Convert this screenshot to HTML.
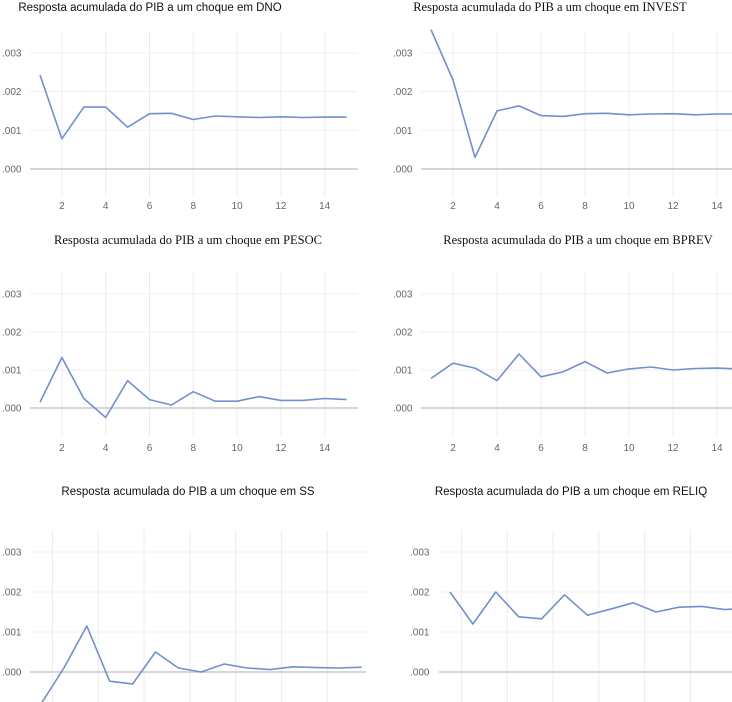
<!DOCTYPE html>
<html><head><meta charset="utf-8"><style>
html,body{margin:0;padding:0;background:#fff;}
svg{display:block;}
.tt{font-family:"Liberation Serif",serif;font-size:12.5px;fill:#111;}
.ts{font-family:"Liberation Sans",sans-serif;font-size:11.5px;fill:#111;}
.tk{font-family:"Liberation Sans",sans-serif;font-size:10px;fill:#666;}
</style></head><body>
<svg id="c" width="732" height="702" viewBox="0 0 732 702"></svg>
<script>
const periods=[1,2,3,4,5,6,7,8,9,10,11,12,13,14,15];
const yTicks=[0,0.001,0.002,0.003];
const yTickLabels=[".000",".001",".002",".003"];
const xTickLabels=[2,4,6,8,10,12,14];
const dno=[0.00243,0.00078,0.0016,0.0016,0.00108,0.00143,0.00144,0.00128,0.00137,0.00135,0.00133,0.00135,0.00133,0.00134,0.00134];
const invest=[0.0036,0.0023,0.0003,0.0015,0.00163,0.00138,0.00136,0.00143,0.00144,0.0014,0.00142,0.00143,0.0014,0.00142,0.00142];
const pesoc=[0.00015,0.00133,0.00025,-0.00025,0.00072,0.00022,0.00008,0.00043,0.00018,0.00018,0.0003,0.0002,0.0002,0.00025,0.00022];
const bprev=[0.00078,0.00118,0.00105,0.00072,0.00142,0.00082,0.00095,0.00122,0.00092,0.00103,0.00108,0.001,0.00104,0.00105,0.00103];
const ss=[-0.0008,0.0001,0.00115,-0.00023,-0.0003,0.0005,0.0001,0.0,0.0002,0.0001,0.00006,0.00013,0.00011,0.0001,0.00012];
const reliq=[0.002,0.0012,0.002,0.00138,0.00133,0.00193,0.00142,0.00157,0.00173,0.0015,0.00162,0.00164,0.00156,0.0016,0.0016];

const panels=[
 {name:'dno',title:'Resposta acumulada do PIB a um choque em DNO',sans:true,tx:150,ty:11,data:dno,x1:40,dx:21.9,y0:169,dy:38.7,L:30,R:358,T:32,B:197,lx:2,xl:209,gridOnTicks:true},
 {name:'invest',title:'Resposta acumulada do PIB a um choque em INVEST',tx:550,ty:11,data:invest,x1:431,dx:22,y0:169,dy:38.7,L:421,R:732,T:32,B:197,lx:393,xl:209,gridOnTicks:true},
 {name:'pesoc',title:'Resposta acumulada do PIB a um choque em PESOC',tx:188,ty:244,data:pesoc,x1:40,dx:21.9,y0:408,dy:38,L:30,R:358,T:272,B:436,lx:2,xl:451,gridOnTicks:true},
 {name:'bprev',title:'Resposta acumulada do PIB a um choque em BPREV',tx:578,ty:244,data:bprev,x1:431,dx:22,y0:408,dy:38,L:421,R:732,T:272,B:436,lx:393,xl:451,gridOnTicks:true},
 {name:'ss',title:'Resposta acumulada do PIB a um choque em SS',sans:true,tx:188,ty:495,data:ss,x1:41,dx:22.9,y0:672,dy:40,L:30,R:366,T:530,B:702,lx:2,xl:null,gridOnTicks:false},
 {name:'reliq',title:'Resposta acumulada do PIB a um choque em RELIQ',sans:true,tx:571,ty:495,data:reliq,x1:450,dx:22.9,y0:672,dy:40,L:439,R:732,T:530,B:702,lx:410,xl:null,gridOnTicks:false}
];
const svg=document.getElementById('c');
const NS='http://www.w3.org/2000/svg';
function mk(t,a){const e=document.createElementNS(NS,t);for(const k in a)e.setAttribute(k,a[k]);return e;}
panels.forEach(p=>{
  const g=mk('g',{});
  
  
  svg.appendChild(g);
  const X=v=>p.x1+(v-1)*p.dx;
  const Y=v=>p.y0-v/0.001*p.dy;
  const gx=p.gridOnTicks?xTickLabels:[1.5,3.5,5.5,7.5,9.5,11.5,13.5];
  gx.forEach(v=>{const l=mk('line',{x1:X(v),x2:X(v),y1:p.T,y2:p.B,stroke:'#ececec','stroke-width':1});
    g.appendChild(l);});
  yTicks.forEach((v,i)=>{
    const l=mk('line',{x1:p.L,x2:p.R,y1:Y(v),y2:Y(v),stroke:v===0?'#c8c8c8':'#efefef','stroke-width':v===0?1.5:1});
    g.appendChild(l);
    const t=mk('text',{x:p.lx,y:Y(v)+3.5,class:'tk'});t.textContent=yTickLabels[i];
    g.appendChild(t);
  });
  if(p.xl!==null) xTickLabels.forEach(v=>{
    const t=mk('text',{x:X(v),y:p.xl,class:'tk','text-anchor':'middle'});t.textContent=v;
    g.appendChild(t);
  });
  const pts=p.data.map((v,i)=>X(periods[i]).toFixed(1)+','+Y(v).toFixed(1)).join(' ');
  const pl=mk('polyline',{points:pts,fill:'none',stroke:'#7190cc','stroke-width':1.6,'stroke-linejoin':'round'});
  g.appendChild(pl);
  const t=mk('text',{x:p.tx,y:p.ty,class:p.sans?'ts':'tt','text-anchor':'middle'});t.textContent=p.title;
  g.appendChild(t);
});
</script>
</body></html>
